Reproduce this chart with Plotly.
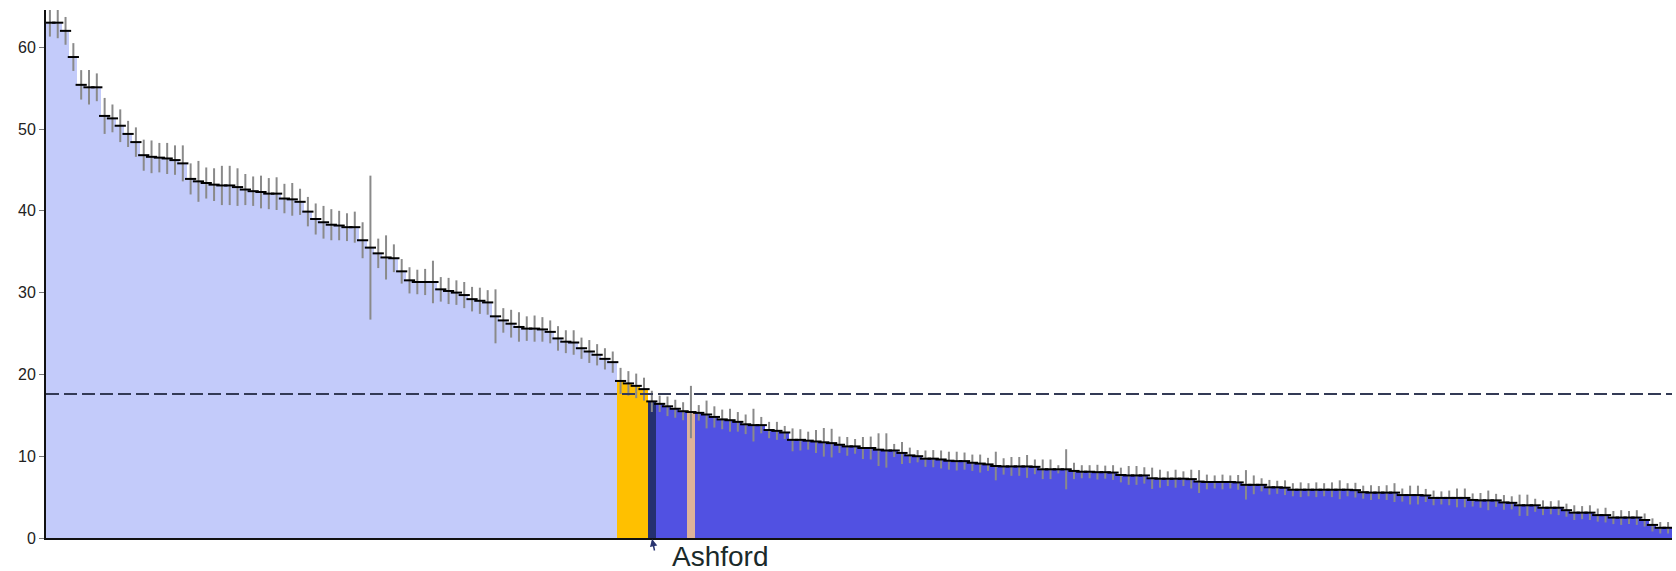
import plotly.graph_objects as go

# Rates by area, sorted from highest to lowest, with confidence half-widths
values = [
    63.0, 63.0, 62.0, 58.8, 55.4, 55.1, 55.1, 51.6, 51.3, 50.4,
    49.4, 48.4, 46.8, 46.6, 46.5, 46.4, 46.2, 45.8, 43.9, 43.6,
    43.4, 43.2, 43.1, 43.1, 42.9, 42.6, 42.4, 42.3, 42.1, 42.1,
    41.5, 41.4, 41.1, 39.9, 39.0, 38.6, 38.3, 38.2, 38.0, 38.0,
    36.4, 35.5, 34.8, 34.3, 34.2, 32.6, 31.5, 31.3, 31.3, 31.3,
    30.4, 30.2, 30.0, 29.7, 29.2, 29.0, 28.8, 27.1, 26.6, 26.2,
    25.8, 25.6, 25.6, 25.5, 25.2, 24.4, 24.0, 23.9, 23.2, 22.8,
    22.4, 21.9, 21.5, 19.2, 18.9, 18.6, 18.2, 16.7, 16.4, 16.1,
    15.8, 15.5, 15.4, 15.3, 15.1, 14.8, 14.5, 14.4, 14.2, 13.9,
    13.8, 13.8, 13.2, 13.1, 12.9, 12.0, 12.0, 11.9, 11.8, 11.7,
    11.6, 11.4, 11.2, 11.2, 11.0, 11.0, 10.8, 10.7, 10.7, 10.4,
    10.1, 10.0, 9.7, 9.7, 9.6, 9.45, 9.4, 9.4, 9.2, 9.1,
    9.0, 8.8, 8.75, 8.75, 8.75, 8.75, 8.7, 8.4, 8.4, 8.4,
    8.4, 8.2, 8.1, 8.1, 8.05, 8.05, 8.0, 7.7, 7.65, 7.65,
    7.65, 7.3, 7.25, 7.25, 7.25, 7.25, 7.2, 6.9, 6.85, 6.85,
    6.85, 6.85, 6.8, 6.5, 6.5, 6.5, 6.2, 6.2, 6.15, 5.9,
    5.9, 5.9, 5.9, 5.9, 5.9, 5.9, 5.9, 5.85, 5.6, 5.55,
    5.55, 5.55, 5.55, 5.25, 5.25, 5.25, 5.2, 4.9, 4.9, 4.9,
    4.9, 4.9, 4.65, 4.6, 4.6, 4.6, 4.35, 4.3, 4.0, 4.0,
    4.0, 3.7, 3.7, 3.7, 3.4, 3.1, 3.1, 3.1, 2.8, 2.8,
    2.5, 2.5, 2.5, 2.5, 2.2, 1.6, 1.25, 1.25,
]

errors = [
    1.7, 1.9, 1.7, 1.7, 1.8, 2.1, 1.7, 2.2, 1.7, 2.0,
    1.6, 1.8, 1.9, 2.0, 1.8, 1.9, 1.8, 2.2, 1.9, 2.5,
    1.9, 2.0, 2.4, 2.4, 2.3, 1.9, 1.8, 2.0, 1.9, 2.0,
    1.8, 2.0, 1.6, 1.8, 1.9, 2.0, 1.9, 1.8, 1.7, 1.9,
    2.2, 8.8, 1.8, 2.7, 1.7, 1.5, 1.6, 1.5, 1.6, 2.6,
    1.5, 1.6, 1.5, 1.6, 1.5, 1.6, 1.5, 3.3, 1.5, 1.7,
    1.8, 1.5, 1.6, 1.5, 1.4, 1.5, 1.4, 1.5, 1.3, 1.4,
    1.3, 1.3, 1.3, 1.6, 1.5, 1.5, 1.4, 1.3, 1.0, 1.2,
    1.1, 1.1, 3.2, 0.95, 1.7, 1.3, 1.2, 1.4, 1.2, 1.2,
    2.0, 1.0, 1.0, 1.1, 0.8, 1.4, 1.3, 1.1, 1.4, 1.75,
    1.75, 1.0, 1.15, 0.9, 1.35, 1.4, 2.0, 2.1, 0.8, 1.35,
    0.95, 0.75, 1.0, 1.05, 1.1, 1.1, 1.15, 1.05, 1.0, 1.1,
    0.8, 1.75, 1.0, 1.15, 1.15, 1.4, 0.9, 1.2, 1.2, 0.5,
    2.45, 1.0, 0.8, 0.8, 0.9, 0.8, 0.9, 0.9, 1.15, 1.15,
    1.0, 1.3, 1.1, 0.9, 1.1, 0.9, 1.15, 1.4, 0.9, 0.8,
    0.9, 0.8, 0.9, 1.8, 1.15, 0.8, 0.9, 0.8, 0.9, 0.8,
    0.9, 0.8, 0.9, 0.8, 0.9, 1.15, 0.8, 0.9, 0.8, 0.9,
    0.8, 0.9, 1.15, 0.8, 1.15, 1.15, 0.8, 0.9, 0.8, 0.9,
    1.15, 1.15, 0.8, 0.9, 1.2, 0.8, 0.9, 0.8, 1.3, 1.3,
    0.8, 0.9, 0.8, 0.9, 0.8, 0.9, 0.8, 0.9, 0.8, 0.9,
    0.8, 0.9, 0.8, 0.9, 0.8, 0.8, 0.7, 0.7,
]

# Significance class of each area: higher / similar / lower, plus the highlighted area
higher_count = 73
similar_idx = [73, 74, 75, 76, 82]
highlight_idx = 77
highlight_name = "Ashford"
benchmark = 17.6

colors = {
    "higher": "#C3CBFA",
    "similar": "#FFC000",
    "similar_narrow": "#DDB39A",
    "lower": "#5151E2",
    "highlight": "#25306F",
}

n = len(values)
xs = list(range(n))
bar_colors = []
for i in xs:
    if i == highlight_idx:
        bar_colors.append(colors["highlight"])
    elif i in similar_idx:
        bar_colors.append(colors["similar"] if i < highlight_idx else colors["similar_narrow"])
    elif i < higher_count:
        bar_colors.append(colors["higher"])
    else:
        bar_colors.append(colors["lower"])

fig = go.Figure()
fig.add_trace(go.Bar(
    x=xs, y=values, marker=dict(color=bar_colors, line=dict(width=0)),
    hoverinfo="skip", showlegend=False,
))
# Confidence intervals
fig.add_trace(go.Scatter(
    x=xs, y=values, mode="markers",
    marker=dict(size=1, color="rgba(0,0,0,0)"),
    error_y=dict(type="data", array=errors, visible=True,
                 color="#8a8a8a", thickness=2, width=0),
    hoverinfo="skip", showlegend=False,
))
# Value marks at the top of each bar
fig.add_trace(go.Scatter(
    x=xs, y=values, mode="markers",
    marker=dict(symbol="line-ew", size=8, line=dict(width=2, color="#000000")),
    hoverinfo="skip", showlegend=False,
))

fig.add_shape(type="line", xref="paper", x0=0, x1=1, yref="y", y0=benchmark, y1=benchmark,
              line=dict(color="#333a55", width=2, dash="13px,5px"), layer="above")

fig.add_annotation(x=highlight_idx, y=0, xref="x", yref="y", text="",
                   showarrow=True, ax=3, ay=14, arrowhead=2, arrowsize=1,
                   arrowwidth=1.5, arrowcolor="#2a3570", standoff=1)
fig.add_annotation(x=highlight_idx, y=0, xref="x", yref="y", text=highlight_name,
                   showarrow=False, xanchor="left", yanchor="top", xshift=18, yshift=-1,
                   font=dict(family="Arial, Liberation Sans, sans-serif", size=28, color="#1a2a2a"))

fig.update_layout(
    width=1676, height=571,
    margin=dict(l=46, r=4, t=10, b=33),
    paper_bgcolor="white", plot_bgcolor="white",
    bargap=0,
    xaxis=dict(range=[-0.5, n - 0.5], showgrid=False, zeroline=False,
               showticklabels=False, ticks="", showline=True,
               linecolor="#111111", linewidth=2),
    yaxis=dict(range=[0, 64.55], showgrid=False, zeroline=False,
               tickvals=[0, 10, 20, 30, 40, 50, 60], ticks="outside", ticklen=5,
               tickcolor="#777777", showline=True, linecolor="#111111", linewidth=2,
               tickfont=dict(family="Arial, Liberation Sans, sans-serif", size=16, color="#222222")),
)

fig.write_html("out.html")
